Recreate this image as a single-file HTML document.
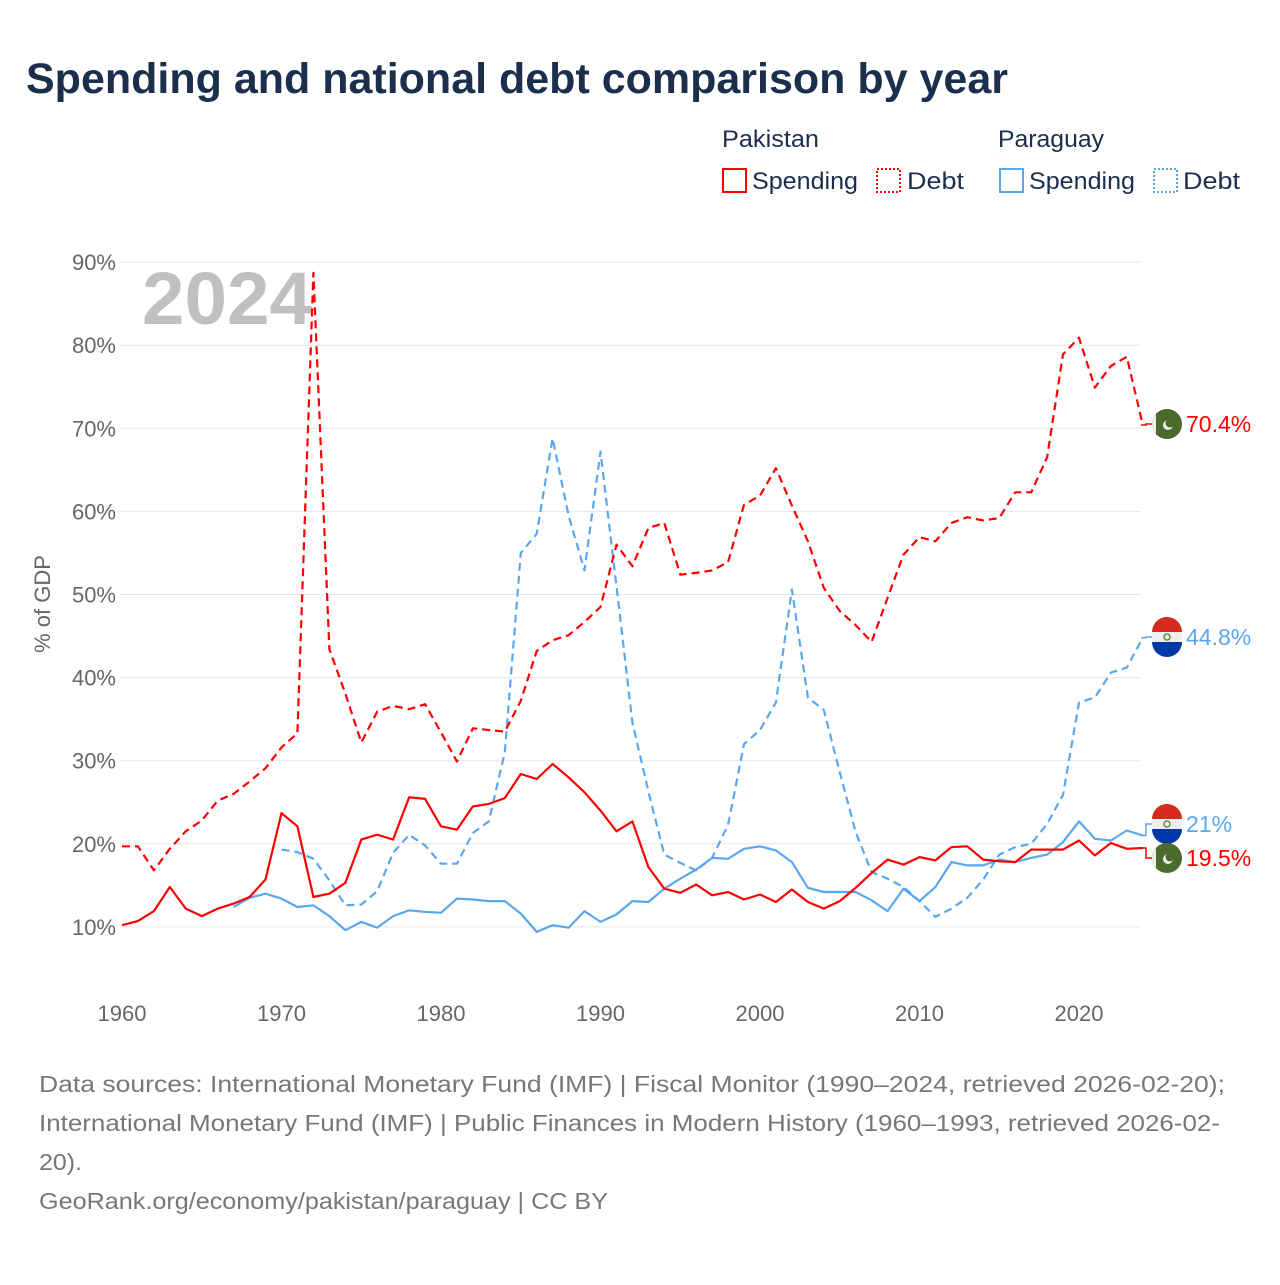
<!DOCTYPE html>
<html><head><meta charset="utf-8"><style>
body{margin:0;background:#fff;width:1280px;height:1280px;overflow:hidden;font-family:"Liberation Sans",sans-serif}
svg text{font-family:"Liberation Sans",sans-serif}
</style></head><body>
<svg id="chart" width="1280" height="1280" xmlns="http://www.w3.org/2000/svg">
<text x="26" y="93" font-size="43" font-weight="bold" fill="#1b2f4d">Spending and national debt comparison by year</text>
<g font-size="24" fill="#1b2f4d">
<text x="722" y="147" textLength="97" lengthAdjust="spacingAndGlyphs">Pakistan</text>
<text x="998" y="147" textLength="106" lengthAdjust="spacingAndGlyphs">Paraguay</text>
<g><rect x="723" y="169" width="23" height="23" fill="none" stroke="#ff0000" stroke-width="2"/><text x="752" y="189" textLength="106" lengthAdjust="spacingAndGlyphs">Spending</text></g>
<g><rect x="877" y="169" width="23" height="23" fill="none" stroke="#ff0000" stroke-width="2" stroke-dasharray="2,2"/><text x="907" y="189" textLength="57" lengthAdjust="spacingAndGlyphs">Debt</text></g>
<g><rect x="1000" y="169" width="23" height="23" fill="none" stroke="#5ba7ee" stroke-width="2"/><text x="1029" y="189" textLength="106" lengthAdjust="spacingAndGlyphs">Spending</text></g>
<g><rect x="1154" y="169" width="23" height="23" fill="none" stroke="#5ba7ee" stroke-width="2" stroke-dasharray="2,2"/><text x="1183" y="189" textLength="57" lengthAdjust="spacingAndGlyphs">Debt</text></g>
</g>
<text x="142" y="324" font-size="74" font-weight="bold" fill="#c0c0c0" textLength="170" lengthAdjust="spacingAndGlyphs">2024</text>
<g id="grid"></g>
<g id="series"></g>
<g id="ends"></g>
<text transform="translate(50,604) rotate(-90)" text-anchor="middle" font-size="22" fill="#666">% of GDP</text>
<g font-size="23" fill="#777">
<text x="39" y="1092" textLength="1186" lengthAdjust="spacingAndGlyphs">Data sources: International Monetary Fund (IMF) | Fiscal Monitor (1990–2024, retrieved 2026-02-20);</text>
<text x="39" y="1131" textLength="1181" lengthAdjust="spacingAndGlyphs">International Monetary Fund (IMF) | Public Finances in Modern History (1960–1993, retrieved 2026-02-</text>
<text x="39" y="1170" textLength="43" lengthAdjust="spacingAndGlyphs">20).</text>
<text x="39" y="1209" textLength="569" lengthAdjust="spacingAndGlyphs">GeoRank.org/economy/pakistan/paraguay | CC BY</text>
</g>
</svg>
<script>
const yTicks=[10,20,30,40,50,60,70,80,90];
const xTicks=[1960,1970,1980,1990,2000,2010,2020];
const pkSpending=[10.2,10.7,11.9,14.8,12.2,11.3,12.2,12.8,13.6,15.7,23.7,22.1,13.6,14.0,15.3,20.5,21.1,20.5,25.6,25.4,22.1,21.7,24.5,24.8,25.5,28.4,27.8,29.6,28.0,26.2,24.0,21.5,22.7,17.2,14.6,14.1,15.1,13.8,14.2,13.3,13.9,13.0,14.5,13.0,12.2,13.1,14.7,16.5,18.1,17.5,18.4,18.0,19.6,19.7,18.1,17.9,17.8,19.3,19.3,19.3,20.4,18.6,20.1,19.4,19.5];
const pkDebt=[19.7,19.7,16.8,19.4,21.5,22.8,25.2,26.0,27.5,29.1,31.6,33.3,88.7,43.4,38.1,32.2,35.9,36.6,36.2,36.8,33.4,29.9,33.9,33.7,33.5,37.2,43.2,44.5,45.1,46.7,48.5,56.0,53.4,58.0,58.6,52.4,52.6,52.9,53.9,60.8,61.9,65.2,60.7,56.4,50.8,48.0,46.3,44.3,49.6,54.8,56.9,56.4,58.6,59.3,58.9,59.2,62.3,62.3,66.5,78.9,80.9,74.9,77.5,78.6,70.4];
const pySpending=[12.4,13.5,14.0,13.4,12.4,12.6,11.3,9.6,10.6,9.9,11.3,12.0,11.8,11.7,13.4,13.3,13.1,13.1,11.6,9.4,10.2,9.9,11.9,10.6,11.5,13.1,13.0,14.6,15.8,16.9,18.3,18.2,19.4,19.7,19.2,17.8,14.7,14.2,14.2,14.2,13.2,11.9,14.6,13.1,14.8,17.8,17.4,17.4,18.1,17.8,18.3,18.7,20.2,22.7,20.6,20.4,21.6,21.0];
const pyDebt=[19.3,19.0,18.2,15.6,12.6,12.7,14.3,18.9,21.1,19.8,17.6,17.6,21.3,22.7,31.0,55.0,57.3,68.8,59.5,52.9,67.2,51.0,34.6,26.3,18.7,17.7,16.8,18.3,22.3,32.0,33.7,37.0,50.6,37.6,36.1,28.6,21.4,16.6,15.8,14.8,13.1,11.2,12.2,13.5,15.7,18.7,19.6,20.0,22.4,25.9,37.0,37.6,40.6,41.2,44.8];
const NS='http://www.w3.org/2000/svg';
const x=yr=>122+(yr-1960)*15.95;
const y=v=>1010-v*8.31;
function mk(t,a,p){const e=document.createElementNS(NS,t);for(const k in a)e.setAttribute(k,a[k]);p.appendChild(e);return e;}
const grid=document.getElementById('grid');
yTicks.forEach(v=>{
 const l=mk('line',{x1:120,x2:1141,y1:y(v),y2:y(v),stroke:'#e6e6e6','stroke-width':1},grid);
 
 
 const t=mk('text',{x:116,y:y(v)+8,'text-anchor':'end','font-size':22,fill:'#666'},grid);
 t.textContent=v+'%';
 
 
});
xTicks.forEach(v=>{
 const t=mk('text',{x:x(v),y:1021,'text-anchor':'middle','font-size':22,fill:'#666'},grid);
 t.textContent=v;
 
 
});
const ser=document.getElementById('series');
function line(vals,start,color,dash,name){
 const pts=vals.map((v,i)=>x(start+i).toFixed(1)+','+y(v).toFixed(1)).join(' ');
 const p=mk('polyline',{points:pts,fill:'none',stroke:color,'stroke-width':2.2,'stroke-linejoin':'round'},ser);
 if(dash)p.setAttribute('stroke-dasharray','8,5');
 
 
}
line(pyDebt,1970,'#5ba7ee',true,'paraguay-debt-line');
line(pySpending,1967,'#5ba7ee',false,'paraguay-spending-line');
line(pkDebt,1960,'#ff0000',true,'pakistan-debt-line');
line(pkSpending,1960,'#ff0000',false,'pakistan-spending-line');
const ends=document.getElementById('ends');
function endLabel(val,ly,color,pk,name){
 const vy=y(val);
 const c=mk('polyline',{points:`1141,${vy} 1146,${vy} 1146,${ly} 1152,${ly}`,fill:'none',stroke:color,'stroke-width':1.5},ends);
 
 
 const g=mk('g',{},ends);
 
 
 const cx=1167;
 if(pk){
  mk('circle',{cx:cx,cy:ly,r:15,fill:'#4a6b2c'},g);
  mk('path',{d:`M${cx-15},${ly} A15,15 0 0 1 ${cx-11},${ly-10} L${cx-11},${ly+10} A15,15 0 0 1 ${cx-15},${ly}Z`,fill:'#eee'},g);
  mk('circle',{cx:cx+1,cy:ly+1,r:5,fill:'#eee'},g);
  mk('circle',{cx:cx+3,cy:ly-1,r:4.5,fill:'#4a6b2c'},g);
 }else{
  mk('circle',{cx:cx,cy:ly,r:15,fill:'#eee'},g);
  mk('path',{d:`M${cx-15},${ly-5} A15,15 0 0 1 ${cx+15},${ly-5}Z`,fill:'#d52b1e'},g);
  mk('path',{d:`M${cx-15},${ly+5} A15,15 0 0 0 ${cx+15},${ly+5}Z`,fill:'#0038a8'},g);
  mk('circle',{cx:cx,cy:ly,r:3,fill:'none',stroke:'#6a8a3a','stroke-width':1.5},g);
 }
 const t=mk('text',{x:1186,y:ly+8,'font-size':23,fill:color},ends);
 t.textContent=val+'%';
 
 
}
endLabel(pkDebt[pkDebt.length-1],424,'#ff0000',true,'pakistan-debt-end');
endLabel(pyDebt[pyDebt.length-1],637,'#5ba7ee',false,'paraguay-debt-end');
endLabel(pySpending[pySpending.length-1],824,'#5ba7ee',false,'paraguay-spending-end');
endLabel(pkSpending[pkSpending.length-1],858,'#ff0000',true,'pakistan-spending-end');
</script>
</body></html>
